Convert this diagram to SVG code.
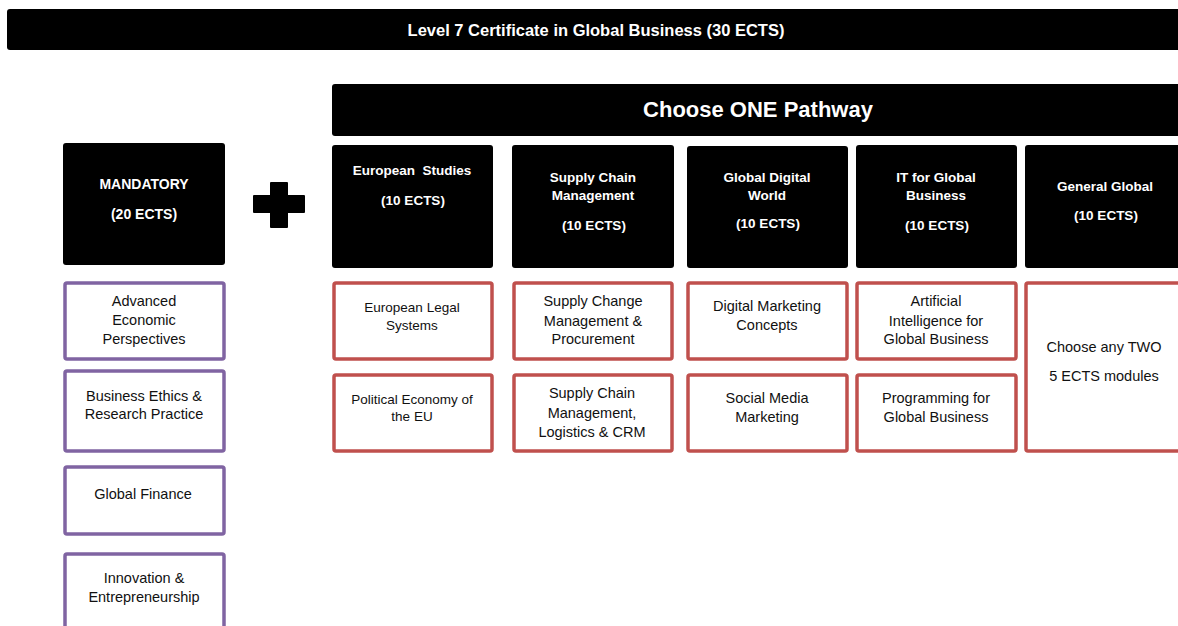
<svg xmlns="http://www.w3.org/2000/svg" width="1178" height="626" viewBox="0 0 1178 626">
  <style>
    .bar { fill: #000; }
    .head { fill: #000; }
    .mod-p { fill: #fff; stroke: #8064a2; stroke-width: 3.5; }
    .mod-r { fill: #fff; stroke: #c0504d; stroke-width: 3.5; }
    .wt { fill: #fff; font-family: "Liberation Sans", Arial, sans-serif; font-weight: bold; text-anchor: middle; dominant-baseline: central; }
    .ht { font-size: 13.5px; }
    .bt { fill: #111; font-family: "Liberation Sans", Arial, sans-serif; font-size: 14.5px; text-anchor: middle; dominant-baseline: central; }
    .st { font-size: 13.5px; }
  </style>

  <!-- top banner -->
  <g id="title">
    <rect class="bar" x="7" y="9" width="1180" height="41" rx="3"/>
    <text class="wt" x="596" y="30" font-size="16.5">Level 7 Certificate in Global Business (30 ECTS)</text>
  </g>

  <!-- pathway banner -->
  <g id="pathway-banner">
    <rect class="bar" x="332" y="84" width="860" height="52" rx="3"/>
    <text class="wt" x="758" y="109" font-size="22">Choose ONE Pathway</text>
  </g>

  <!-- mandatory column -->
  <g id="mandatory">
    <rect class="head" x="63" y="143" width="162" height="122" rx="3"/>
    <text class="wt" x="144" y="184" font-size="14">MANDATORY</text>
    <text class="wt" x="144" y="214" font-size="14">(20 ECTS)</text>
  </g>

  <g id="plus">
    <rect x="253" y="195" width="52" height="18" rx="1" fill="#000"/>
    <rect x="270" y="182" width="18" height="46" rx="1" fill="#000"/>
  </g>

  <g id="m1">
    <rect class="mod-p" x="65" y="283" width="159" height="76" rx="2"/>
    <text class="bt" x="144" y="301">Advanced</text>
    <text class="bt" x="144" y="320">Economic</text>
    <text class="bt" x="144" y="339">Perspectives</text>
  </g>
  <g id="m2">
    <rect class="mod-p" x="65" y="371" width="159" height="80" rx="2"/>
    <text class="bt" x="144" y="396">Business Ethics &amp;</text>
    <text class="bt" x="144" y="414">Research Practice</text>
  </g>
  <g id="m3">
    <rect class="mod-p" x="65" y="467" width="159" height="67" rx="2"/>
    <text class="bt" x="143" y="494">Global Finance</text>
  </g>
  <g id="m4">
    <rect class="mod-p" x="65" y="554" width="159" height="80" rx="2"/>
    <text class="bt" x="144" y="578">Innovation &amp;</text>
    <text class="bt" x="144" y="597">Entrepreneurship</text>
  </g>

  <!-- pathway headers -->
  <g id="p-european">
    <rect class="head" x="332" y="145" width="161" height="123" rx="3"/>
    <text class="wt ht" x="412" y="170" xml:space="preserve">European  Studies</text>
    <text class="wt ht" x="413" y="200">(10 ECTS)</text>
  </g>
  <g id="p-supply">
    <rect class="head" x="512" y="145" width="162" height="123" rx="3"/>
    <text class="wt ht" x="593" y="177">Supply Chain</text>
    <text class="wt ht" x="593" y="195">Management</text>
    <text class="wt ht" x="594" y="225">(10 ECTS)</text>
  </g>
  <g id="p-digital">
    <rect class="head" x="687" y="146" width="161" height="122" rx="3"/>
    <text class="wt ht" x="767" y="177">Global Digital</text>
    <text class="wt ht" x="767" y="195">World</text>
    <text class="wt ht" x="768" y="223">(10 ECTS)</text>
  </g>
  <g id="p-it">
    <rect class="head" x="856" y="145" width="161" height="123" rx="3"/>
    <text class="wt ht" x="936" y="177">IT for Global</text>
    <text class="wt ht" x="936" y="195">Business</text>
    <text class="wt ht" x="937" y="225">(10 ECTS)</text>
  </g>
  <g id="p-general">
    <rect class="head" x="1025" y="145" width="170" height="123" rx="3"/>
    <text class="wt ht" x="1105" y="186">General Global</text>
    <text class="wt ht" x="1106" y="215">(10 ECTS)</text>
  </g>

  <!-- pathway modules -->
  <g id="e1">
    <rect class="mod-r" x="334" y="283" width="158" height="76" rx="2"/>
    <text class="bt st" x="412" y="307">European Legal</text>
    <text class="bt st" x="412" y="325">Systems</text>
  </g>
  <g id="e2">
    <rect class="mod-r" x="334" y="375" width="158" height="76" rx="2"/>
    <text class="bt st" x="412" y="399">Political Economy of</text>
    <text class="bt st" x="412" y="416">the EU</text>
  </g>
  <g id="s1">
    <rect class="mod-r" x="514" y="283" width="158" height="76" rx="2"/>
    <text class="bt" x="593" y="301">Supply Change</text>
    <text class="bt" x="593" y="321">Management &amp;</text>
    <text class="bt" x="593" y="339">Procurement</text>
  </g>
  <g id="s2">
    <rect class="mod-r" x="514" y="375" width="158" height="76" rx="2"/>
    <text class="bt" x="592" y="393">Supply Chain</text>
    <text class="bt" x="592" y="413">Management,</text>
    <text class="bt" x="592" y="432">Logistics &amp; CRM</text>
  </g>
  <g id="d1">
    <rect class="mod-r" x="688" y="283" width="159" height="76" rx="2"/>
    <text class="bt" x="767" y="306">Digital Marketing</text>
    <text class="bt" x="767" y="325">Concepts</text>
  </g>
  <g id="d2">
    <rect class="mod-r" x="688" y="375" width="159" height="76" rx="2"/>
    <text class="bt" x="767" y="398">Social Media</text>
    <text class="bt" x="767" y="417">Marketing</text>
  </g>
  <g id="i1">
    <rect class="mod-r" x="857" y="283" width="159" height="76" rx="2"/>
    <text class="bt" x="936" y="301">Artificial</text>
    <text class="bt" x="936" y="321">Intelligence for</text>
    <text class="bt" x="936" y="339">Global Business</text>
  </g>
  <g id="i2">
    <rect class="mod-r" x="857" y="375" width="159" height="76" rx="2"/>
    <text class="bt" x="936" y="398">Programming for</text>
    <text class="bt" x="936" y="417">Global Business</text>
  </g>
  <g id="g1">
    <rect class="mod-r" x="1026" y="283" width="170" height="168" rx="2"/>
    <text class="bt" x="1104" y="347">Choose any TWO</text>
    <text class="bt" x="1104" y="376">5 ECTS modules</text>
  </g>

  <g id="connectors"/>
</svg>
